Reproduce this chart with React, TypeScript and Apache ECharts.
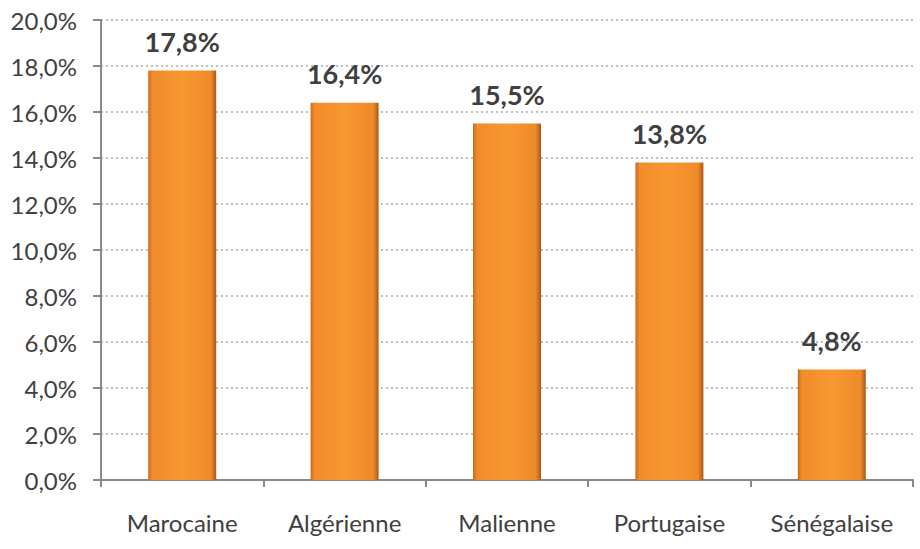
import React, { useEffect, useRef } from "react";
import * as echarts from "echarts";

const categories = ["Marocaine", "Algérienne", "Malienne", "Portugaise", "Sénégalaise"];
const values = [17.8, 16.4, 15.5, 13.8, 4.8];
const yTicks = [0, 2, 4, 6, 8, 10, 12, 14, 16, 18, 20];

const fmt = (v: number) => v.toFixed(1).replace(".", ",") + "%";

export default function App() {
  const ref = useRef<HTMLDivElement>(null);
  useEffect(() => {
    const chart = echarts.init(ref.current!, null, { renderer: "svg" });
    chart.setOption({
      animation: false,
      backgroundColor: "#ffffff",
      textStyle: { fontFamily: "Lato, 'Open Sans', sans-serif" },
      grid: { left: 101, right: 7, top: 20, bottom: 69, containLabel: false },
      xAxis: {
        type: "category",
        data: categories,
        axisLine: { lineStyle: { color: "#888888", width: 2 } },
        axisTick: { show: true, length: 7, lineStyle: { color: "#888888", width: 2 } },
        axisLabel: { color: "#404040", fontSize: 24, margin: 30, fontFamily: "Lato, sans-serif" },
      },
      yAxis: {
        type: "value",
        min: yTicks[0],
        max: yTicks[yTicks.length - 1],
        interval: 2,
        axisLine: { show: true, lineStyle: { color: "#888888", width: 2 } },
        axisTick: { show: true, length: 8, lineStyle: { color: "#888888", width: 2 } },
        axisLabel: {
          color: "#404040",
          fontSize: 24,
          margin: 24,
          fontFamily: "Lato, sans-serif",
          formatter: (v: number) => fmt(v),
        },
        splitLine: { show: true, lineStyle: { color: "#aaaaaa", type: [2, 3], width: 1.5 } },
      },
      series: [
        {
          type: "bar",
          data: values,
          barWidth: 68,
          itemStyle: {
            color: new echarts.graphic.LinearGradient(0, 0, 1, 0, [
              { offset: 0, color: "#c96a1c" },
              { offset: 0.06, color: "#f08c2b" },
              { offset: 0.5, color: "#f89831" },
              { offset: 0.92, color: "#ee8a29" },
              { offset: 1, color: "#a95918" },
            ]),
          },
          label: {
            show: true,
            position: "top",
            distance: 16,
            color: "#404040",
            fontSize: 27,
            fontWeight: "bold",
            fontFamily: "Lato, sans-serif",
            formatter: (p: any) => fmt(p.value),
          },
        },
      ],
    });
    return () => chart.dispose();
  }, []);
  return (
    <div
      ref={ref}
      style={{ position: "absolute", left: 0, top: 0, width: 920, height: 549 }}
    />
  );
}
